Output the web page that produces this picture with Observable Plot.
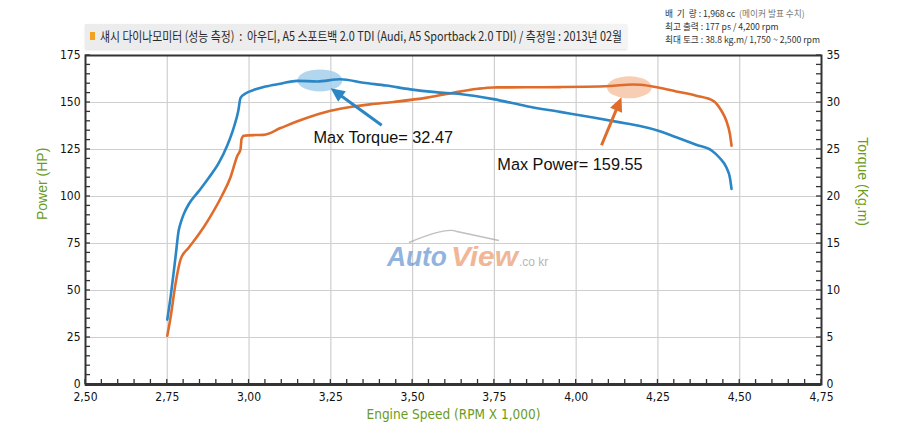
<!DOCTYPE html>
<html><head><meta charset="utf-8">
<script src="https://cdn.jsdelivr.net/npm/d3@7"></script>
<script src="https://cdn.jsdelivr.net/npm/@observablehq/plot@0.6"></script>
<style>
body{margin:0;background:#fff;}
#wrap{position:relative;width:900px;height:436px;overflow:hidden;}
#wrap svg{position:absolute;left:0;top:0;}
#hdr{position:absolute;left:85px;top:24px;width:542px;height:25px;background:linear-gradient(90deg,#ececec,#eeeeee 80%,#f4f4f4);box-shadow:0 1px 2px rgba(0,0,0,0.12);}
#mark{position:absolute;left:90px;top:32px;width:5px;height:8px;background:#f3a21f;}
#htxt{position:absolute;left:100px;top:27px;font-family:"Noto Sans CJK KR",sans-serif;font-size:13px;line-height:18px;color:#2a2a2a;white-space:nowrap;transform-origin:left center;display:inline-block;}
#specs{position:absolute;left:665px;top:6.5px;font-family:"Noto Sans CJK KR",sans-serif;font-size:9px;line-height:13.2px;color:#333;white-space:nowrap;transform-origin:left top;}
#specs div{height:13.2px;}
#specs span.l{display:inline-block;}
</style></head>
<body>
<div id="wrap"></div>
<script>
// ---- data ----
const rpmTicks = [2.5, 2.75, 3.0, 3.25, 3.5, 3.75, 4.0, 4.25, 4.5, 4.75];
const powerTicks = [0, 25, 50, 75, 100, 125, 150, 175];
const torqueTicks = [0, 5, 10, 15, 20, 25, 30, 35];
const rpmMinor = d3.range(2.5, 4.7501, 0.05);
const powerMinor = d3.range(0, 175.01, 5);

const powerRpm = [2.750, 2.760, 2.775, 2.791, 2.816, 2.847, 2.877, 2.917, 2.943, 2.964, 2.974, 2.977, 2.984, 3.020, 3.045, 3.096, 3.167, 3.249, 3.310, 3.370, 3.442, 3.544, 3.600, 3.645, 3.700, 3.747, 3.850, 3.951, 4.030, 4.103, 4.174, 4.195, 4.251, 4.306, 4.367, 4.419, 4.444, 4.459, 4.470, 4.475];
const powerHp  = [25.9, 35.6, 53.4, 66.7, 72.9, 80.0, 88.0, 100.4, 110.1, 121.6, 125.2, 130.5, 132.3, 132.7, 132.8, 136.4, 141.2, 145.6, 147.6, 149.0, 150.3, 152.6, 154.4, 155.8, 157.3, 158.0, 158.1, 158.2, 158.4, 158.8, 159.55, 159.4, 158.0, 155.9, 153.6, 150.9, 145.6, 140.3, 133.2, 127.0];

const torqueRpm = [2.750, 2.760, 2.775, 2.785, 2.791, 2.800, 2.816, 2.847, 2.877, 2.908, 2.933, 2.953, 2.967, 2.974, 2.989, 3.020, 3.050, 3.096, 3.147, 3.208, 3.279, 3.350, 3.420, 3.493, 3.570, 3.645, 3.747, 3.849, 3.951, 4.052, 4.154, 4.195, 4.251, 4.306, 4.367, 4.414, 4.439, 4.459, 4.470, 4.475];
const torqueKgm = [6.9, 9.3, 13.5, 16.4, 17.2, 18.1, 19.2, 20.6, 22.0, 23.6, 25.4, 27.3, 29.1, 30.5, 30.96, 31.4, 31.7, 32.0, 32.3, 32.24, 32.47, 32.1, 31.8, 31.4, 31.1, 30.9, 30.36, 29.6, 29.0, 28.4, 27.76, 27.5, 27.0, 26.3, 25.5, 24.9, 24.1, 23.1, 22.0, 20.8];

// annotations (rpm, HP-scale position)
const noteText = ["Max Torque= 32.47", "Max Power= 159.55"];
const noteRpm = [3.197, 3.759];
const noteHp = [131.2, 116.9];
const spotRpm = [3.218, 4.164];
const spotHp = [161.5, 157.8];
const arrowFromRpm = [3.407, 4.079];
const arrowFromHp = [137.6, 127.0];
const arrowToRpm = [3.251, 4.140];
const arrowToHp = [157.3, 152.5];
const markRpm = 3.423, markHp = 63.0;

const hpPerKgm = powerTicks[powerTicks.length - 1] / torqueTicks[torqueTicks.length - 1];

const BLUE = "#2a86c5", ORANGE = "#e06c2c", GREEN = "#6b9b21";
const spotFill = ["#a6cfec", "#f6c4a6"];
const noteColor = [BLUE, ORANGE];
const TICKFONT = "'DejaVu Sans Condensed', 'DejaVu Sans', sans-serif";

const power = powerRpm.map((r, i) => ({rpm: r, hp: powerHp[i]}));
const torque = torqueRpm.map((r, i) => ({rpm: r, kgm: torqueKgm[i]}));
const notes = noteText.map((t, i) => ({text: t, rpm: noteRpm[i], hp: noteHp[i]}));

const spots = (index, scales) => {
  const g = d3.create("svg:g");
  spotRpm.forEach((r, i) => {
    g.append("ellipse").attr("cx", scales.x(r)).attr("cy", scales.y(spotHp[i]))
      .attr("rx", 22.5).attr("ry", 11).attr("fill", spotFill[i]).attr("fill-opacity", 0.85);
  });
  return g.node();
};

const arrows = (index, scales) => {
  const g = d3.create("svg:g");
  arrowFromRpm.forEach((r, i) => {
    const x1 = scales.x(r), y1 = scales.y(arrowFromHp[i]);
    const x2 = scales.x(arrowToRpm[i]), y2 = scales.y(arrowToHp[i]);
    const dx = x2 - x1, dy = y2 - y1, L = Math.hypot(dx, dy);
    const ux = dx / L, uy = dy / L, hl = 14, hw = 6.5;
    const bx = x2 - ux * hl, by = y2 - uy * hl;
    g.append("line").attr("x1", x1).attr("y1", y1).attr("x2", bx + ux * 2).attr("y2", by + uy * 2)
      .attr("stroke", noteColor[i]).attr("stroke-width", 3);
    g.append("path").attr("d", `M${x2},${y2}L${bx - uy * hw},${by + ux * hw}L${bx + uy * hw},${by - ux * hw}Z`)
      .attr("fill", noteColor[i]);
  });
  return g.node();
};

const minorTicks = (index, scales, values, dims) => {
  const g = d3.create("svg:g").attr("stroke", "#333").attr("stroke-width", 1.3);
  const yb = dims.height - dims.marginBottom, xl = dims.marginLeft, xr = dims.width - dims.marginRight;
  rpmMinor.forEach(r => {
    const x = scales.x(r);
    g.append("line").attr("x1", x).attr("x2", x).attr("y1", yb).attr("y2", yb - 5);
  });
  powerMinor.forEach(p => {
    const y = scales.y(p);
    g.append("line").attr("x1", xl).attr("x2", xl + 5).attr("y1", y).attr("y2", y);
    g.append("line").attr("x1", xr).attr("x2", xr - 5).attr("y1", y).attr("y2", y);
  });
  return g.node();
};

const watermark = (index, scales) => {
  const g = d3.create("svg:g").attr("opacity", 0.62).attr("text-anchor", "start");
  const x0 = scales.x(markRpm), y0 = scales.y(markHp);
  g.append("path").attr("d", `M${x0 + 22},${y0 - 23} Q${x0 + 60},${y0 - 39} ${x0 + 70},${y0 - 34} L${x0 + 112},${y0 - 25}`)
    .attr("fill", "none").attr("stroke", "#9a9a9a").attr("stroke-width", 1.5);
  g.append("text").attr("x", x0).attr("y", y0).attr("textLength", 60).attr("lengthAdjust", "spacingAndGlyphs")
    .attr("font-family", "'Liberation Sans', Arial, sans-serif").attr("font-weight", "bold").attr("font-style", "italic")
    .attr("font-size", 27).attr("fill", "#4f86cc").text("Auto");
  g.append("text").attr("x", x0 + 64).attr("y", y0).attr("textLength", 67).attr("lengthAdjust", "spacingAndGlyphs")
    .attr("font-family", "'Liberation Sans', Arial, sans-serif").attr("font-weight", "bold").attr("font-style", "italic")
    .attr("font-size", 27).attr("fill", "#ea8a55").text("View");
  g.append("text").attr("x", x0 + 132).attr("y", y0).attr("font-family", "'Liberation Sans', Arial, sans-serif")
    .attr("font-size", 12).attr("fill", "#8a8a8a").text(".co kr");
  return g.node();
};

const chart = Plot.plot({
  width: 900, height: 436,
  marginLeft: 85, marginRight: 79, marginTop: 55, marginBottom: 52,
  style: {fontFamily: TICKFONT, fontSize: "12px", color: "#111", background: "#fff"},
  x: {domain: [2.5, 4.75], axis: null, label: null},
  y: {domain: [0, 175], axis: null, label: null},
  marks: [
    Plot.gridX(rpmTicks.slice(1, -1), {stroke: "#cfcfcf", strokeOpacity: 1, strokeWidth: 1.2}),
    Plot.gridY(powerTicks.slice(1, -1), {stroke: "#cfcfcf", strokeOpacity: 1, strokeWidth: 1.2}),
    watermark,
    spots,
    Plot.line(power, {x: "rpm", y: "hp", stroke: ORANGE, strokeWidth: 2.6, curve: "monotone-x"}),
    Plot.line(torque, {x: "rpm", y: d => d.kgm * hpPerKgm, stroke: BLUE, strokeWidth: 2.6, curve: "monotone-x"}),
    arrows,
    Plot.text(notes, {x: "rpm", y: "hp", text: "text", textAnchor: "start", fontSize: 16.3,
      fontFamily: "'Liberation Sans', Arial, sans-serif", fill: "#111"}),
    Plot.frame({stroke: "#333", strokeWidth: 2}),
    Plot.ruleY([0], {stroke: "#333", strokeWidth: 3}),
    minorTicks,
    Plot.axisX(rpmTicks, {tickSize: 0, tickPadding: 8, tickFormat: d => d.toFixed(2).replace(".", ","), label: null, fill: "#111"}),
    Plot.axisY(powerTicks, {anchor: "left", tickSize: 0, tickPadding: 5, label: null, fill: "#111"}),
    Plot.axisY(torqueTicks.map(t => t * hpPerKgm), {anchor: "right", tickSize: 0, tickPadding: 5,
      tickFormat: d => String(d / hpPerKgm), label: null, fill: "#111"}),
    Plot.text(["Power (HP)"], {frameAnchor: "left", dx: -43, rotate: -90, fill: GREEN, fontSize: 14,
      fontFamily: "'Liberation Sans', Arial, sans-serif"}),
    Plot.text(["Torque (Kg.m)"], {frameAnchor: "right", dx: 41, dy: 6, rotate: 90, fill: GREEN, fontSize: 14,
      fontFamily: "'Liberation Sans', Arial, sans-serif"}),
    Plot.text(["Engine Speed (RPM X 1,000)"], {frameAnchor: "bottom", dy: 34, fill: GREEN, fontSize: 13.5})
  ]
});

const wrap = document.getElementById("wrap");
wrap.appendChild(chart);
wrap.insertAdjacentHTML("beforeend",
  `<div id="hdr"></div><div id="mark"></div>` +
  `<span id="htxt">섀시 다이나모미터 (성능 측정) &nbsp;:&nbsp; 아우디, A5 스포트백 2.0 TDI (Audi, A5 Sportback 2.0 TDI) / 측정일 : 2013년 02월</span>` +
  `<div id="specs"><div><span class="l">배&nbsp; 기&nbsp; 량 : 1,968 cc &nbsp;<span style="color:#777">(메이커 발표 수치)</span></span></div>` +
  `<div><span class="l">최고 출력 : 177 ps / 4,200 rpm</span></div>` +
  `<div><span class="l" id="sl3">최대 토크 : 38.8 kg.m/ 1,750 ~ 2,500 rpm</span></div></div>`);
const htxt = document.getElementById("htxt");
htxt.style.transform = `scaleX(${522 / htxt.getBoundingClientRect().width})`;
const sl3 = document.getElementById("sl3");
document.getElementById("specs").style.transform = `scaleX(${155 / sl3.getBoundingClientRect().width})`;
</script>
</body></html>
